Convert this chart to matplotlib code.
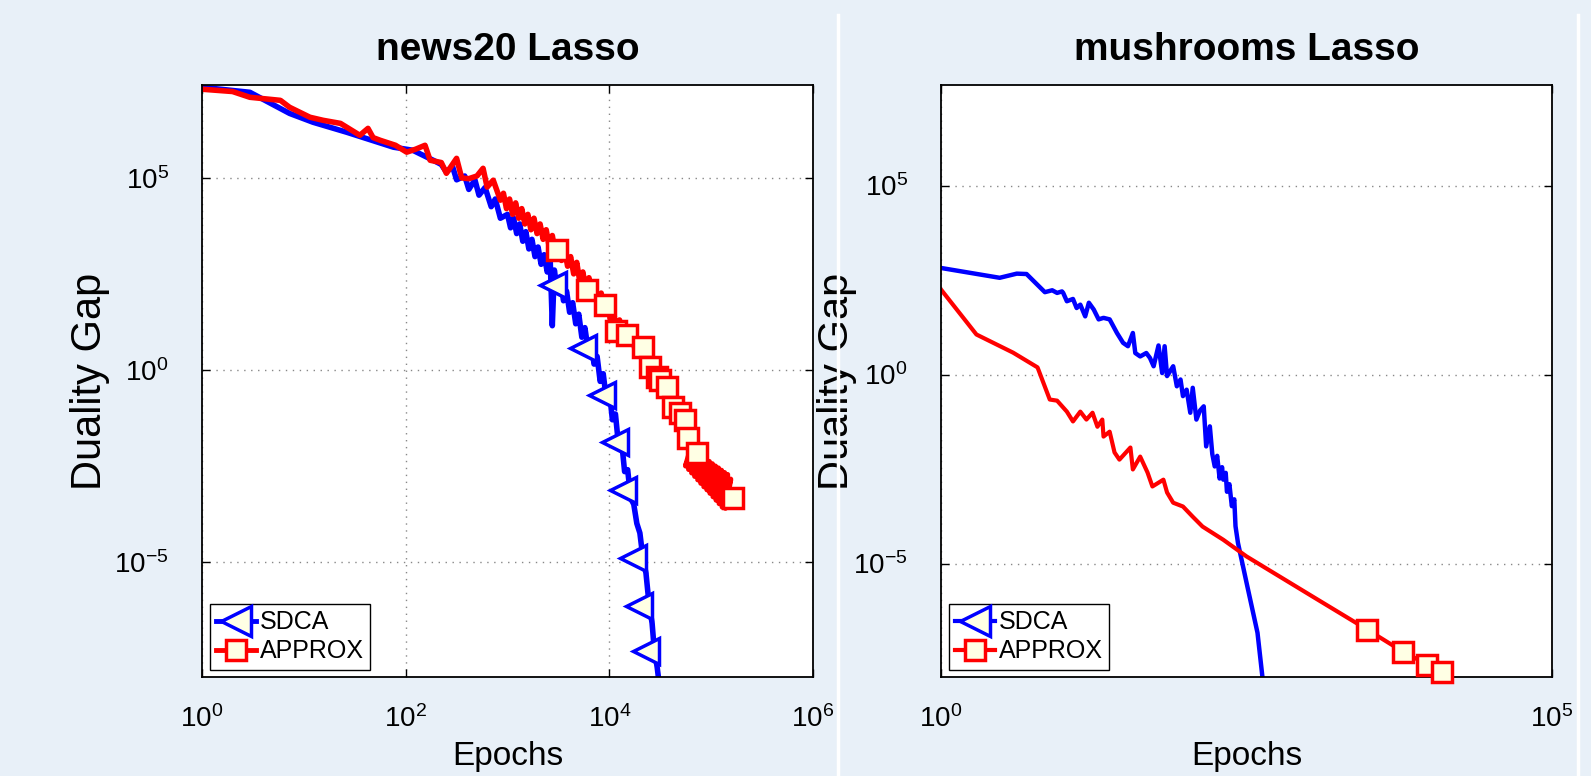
import numpy as np
import matplotlib
matplotlib.use("Agg")
import matplotlib.pyplot as plt
from matplotlib.lines import Line2D
from matplotlib.ticker import NullLocator

plt.rcParams['font.family'] = ['Liberation Sans', 'DejaVu Sans']
plt.rcParams['mathtext.fontset'] = 'custom'
plt.rcParams['mathtext.rm'] = 'Liberation Sans'
plt.rcParams['mathtext.it'] = 'Liberation Sans:italic'

BG = '#e8f0f8'
FACE = '#ffffe4'

# values are stored as log10(epochs), log10(duality gap)
# --- news20 Lasso ---
news_sdca_lx = [0.00, 0.47, 0.86, 1.09, 1.42, 1.88, 2.07, 2.27, 2.35, 2.40, 2.46, 2.50, 2.58, 2.62,
                2.68, 2.72, 2.78, 2.84, 2.88, 2.93,
                3.00, 3.03, 3.06, 3.09, 3.12, 3.15, 3.18, 3.21, 3.24, 3.27, 3.30, 3.33, 3.36, 3.39,
                3.42, 3.44, 3.46, 3.49, 3.52, 3.55, 3.58, 3.61, 3.64, 3.67, 3.70, 3.73, 3.76, 3.79,
                3.82, 3.85, 3.88, 3.91, 3.94, 3.97, 4.00, 4.03, 4.06, 4.09, 4.12, 4.15, 4.18, 4.21,
                4.24, 4.27, 4.30, 4.33, 4.36, 4.39, 4.42, 4.44, 4.47, 4.50]
news_sdca_ly = [7.36, 7.23, 6.68, 6.45, 6.19, 5.80, 5.72, 5.46, 5.35, 5.15, 5.30, 4.95, 5.05, 4.70,
                4.95, 4.55, 4.75, 4.25, 4.45, 3.95,
                4.05, 3.70, 3.95, 3.55, 3.80, 3.35, 3.60, 3.15, 3.40, 2.95, 3.20, 2.75, 3.00, 2.55,
                2.80, 1.15, 2.60, 2.05, 2.35, 1.80, 2.05, 1.50, 1.75, 1.20, 1.45, 0.85, 1.10, 0.55,
                0.75, 0.15, 0.35, -0.30, -0.10, -0.75, -0.55, -1.30, -1.15, -1.95, -1.85, -2.65,
                -2.60, -3.35, -3.50, -4.00, -4.25, -4.90, -5.30, -6.10, -6.60, -7.25, -7.75, -8.40]
news_sdca_mx = [3.45, 3.74, 3.93, 4.06, 4.13, 4.23, 4.29, 4.36]
news_sdca_my = [2.21, 0.57, -0.65, -1.87, -3.12, -4.89, -6.14, -7.31]

news_apx_lx = [0.00, 0.30, 0.47, 0.77, 0.86, 1.06, 1.19, 1.36, 1.55, 1.63, 1.68, 1.75, 1.90, 2.01,
               2.10, 2.19, 2.24, 2.35, 2.40, 2.50, 2.55, 2.62, 2.70, 2.76, 2.80, 2.86, 2.93,
               2.96, 2.99, 3.02, 3.05, 3.08, 3.11, 3.14, 3.17, 3.20, 3.23, 3.26, 3.29, 3.32, 3.35,
               3.38, 3.41, 3.44, 3.47, 3.50, 3.53, 3.56, 3.59, 3.62, 3.65, 3.68, 3.71, 3.74, 3.77,
               3.80, 3.83, 3.86, 3.89, 3.92, 3.95, 3.98, 4.01, 4.04, 4.07, 4.10, 4.13, 4.16, 4.19,
               4.22, 4.25, 4.28, 4.31, 4.34, 4.37, 4.40, 4.43, 4.46, 4.49, 4.52, 4.55, 4.58, 4.61,
               4.63, 4.66, 4.69, 4.74, 4.77,
               4.80, 4.75, 4.83, 4.78, 4.86, 4.81, 4.89, 4.84, 4.92, 4.87, 4.95, 4.90, 4.98, 4.93,
               5.01, 4.96, 5.04, 4.99, 5.07, 5.02, 5.10, 5.05, 5.13, 5.08, 5.16, 5.11, 5.19, 5.14,
               5.21]
news_apx_ly = [7.31, 7.25, 7.10, 7.02, 6.84, 6.58, 6.50, 6.42, 6.11, 6.29, 6.05, 5.98, 5.85, 5.67,
               5.75, 5.85, 5.46, 5.40, 5.12, 5.51, 5.00, 4.98, 5.05, 5.25, 4.76, 4.94, 4.42,
               4.60, 4.20, 4.45, 4.05, 4.35, 3.95, 4.20, 3.80, 4.05, 3.65, 3.95, 3.55, 3.80, 3.40,
               3.65, 3.20, 3.50, 3.05, 3.30, 2.85, 3.15, 2.70, 2.95, 2.50, 2.80, 2.30, 2.55, 2.10,
               2.40, 1.95, 2.20, 1.75, 2.00, 1.55, 1.80, 1.30, 1.55, 1.00, 1.30, 0.80, 1.05, 0.70,
               0.95, 0.55, 0.80, 0.35, 0.60, 0.05, 0.25, -0.20, 0.00, -0.35, -0.15, -0.50, -0.40,
               -0.80, -0.95, -1.00, -1.12, -1.30, -1.77,
               -2.05, -2.50, -2.11, -2.59, -2.17, -2.68, -2.22, -2.77, -2.28, -2.86, -2.34, -2.95,
               -2.39, -3.04, -2.45, -3.12, -2.51, -3.21, -2.56, -3.30, -2.62, -3.39, -2.68, -3.48,
               -2.73, -3.57, -2.85, -3.60, -3.33]
news_apx_mx = [3.49, 3.78, 3.96, 4.07, 4.17, 4.33, 4.40, 4.47, 4.50, 4.57, 4.63, 4.69, 4.74, 4.77,
               4.86, 5.21]
news_apx_my = [3.12, 2.08, 1.69, 1.00, 0.91, 0.60, 0.08, -0.18, -0.26, -0.44, -0.96, -1.12, -1.30,
               -1.77, -2.16, -3.33]

# --- mushrooms Lasso ---
mush_sdca_lx = [0.00, 0.48, 0.62, 0.70, 0.85, 0.91, 0.95, 0.99, 1.00, 1.03, 1.08, 1.11, 1.14, 1.18,
                1.21, 1.25, 1.29, 1.33, 1.38, 1.44, 1.49, 1.53, 1.57, 1.59, 1.63, 1.68, 1.71, 1.74,
                1.78, 1.81, 1.83, 1.85, 1.90, 1.93, 1.96, 1.98, 2.01, 2.04, 2.06, 2.09, 2.12, 2.15,
                2.17, 2.20, 2.22, 2.24, 2.26, 2.28, 2.30, 2.31, 2.33, 2.34, 2.36, 2.38, 2.40, 2.41,
                2.43, 2.50, 2.59, 2.63, 2.66]
mush_sdca_ly = [2.82, 2.56, 2.67, 2.66, 2.18, 2.23, 2.16, 2.20, 2.16, 1.94, 2.00, 1.76, 1.85, 1.54,
                1.90, 1.72, 1.46, 1.50, 1.46, 1.10, 0.84, 0.75, 1.10, 0.57, 0.48, 0.57, 0.44, 0.22,
                0.77, 0.04, 0.75, -0.04, 0.22, -0.31, -0.13, -0.57, -0.40, -1.01, -0.35, -1.19,
                -0.95, -0.84, -1.90, -1.37, -2.10, -2.43, -2.15, -2.75, -2.45, -2.78, -2.60, -3.10,
                -2.90, -3.48, -3.30, -4.01, -4.45, -5.50, -6.83, -7.99, -8.50]

mush_apx_lx = [0.00, 0.29, 0.59, 0.79, 0.89, 0.95, 1.03, 1.08, 1.14, 1.19, 1.24, 1.28, 1.32, 1.33,
               1.38, 1.42, 1.46, 1.55, 1.57, 1.63, 1.69, 1.73, 1.82, 1.85, 1.90, 1.98, 2.06, 2.14,
               2.31, 2.50, 3.04, 3.49, 3.78, 3.98, 4.10]
mush_apx_ly = [2.25, 1.06, 0.58, 0.19, -0.66, -0.69, -0.98, -1.24, -0.98, -1.19, -1.01, -1.38, -1.19,
               -1.64, -1.51, -2.06, -2.25, -1.93, -2.51, -2.17, -2.59, -2.96, -2.78, -3.12, -3.39,
               -3.49, -3.76, -4.02, -4.37, -4.81, -5.87, -6.75, -7.33, -7.67, -7.88]
mush_apx_mx = [3.49, 3.78, 3.98, 4.10]
mush_apx_my = [-6.75, -7.33, -7.67, -7.88]

series_labels = ['SDCA', 'APPROX']

fig = plt.figure(figsize=(15.91, 7.76), dpi=100, facecolor=BG)

W, H = 1591, 776
ax1 = fig.add_axes([202 / W, 1 - 677 / H, 611 / W, 592 / H])
ax2 = fig.add_axes([941 / W, 1 - 677 / H, 611 / W, 592 / H])

# thin white separators around the right panel
for xp in (838, 1578):
    fig.add_artist(Line2D([xp / W, xp / W], [0, 1 - 15 / H], transform=fig.transFigure,
                          color='white', lw=2.5))


def p10(v):
    return np.power(10.0, np.asarray(v))


def style(ax, title, xlim, xticks, ylim, ylab_x, lw):
    ax.set_xscale('log')
    ax.set_yscale('log')
    ax.set_xlim(*xlim)
    ax.set_ylim(*ylim)
    ax.set_xticks(xticks)
    ax.set_yticks([1e-5, 1e0, 1e5])
    ax.xaxis.set_minor_locator(NullLocator())
    ax.yaxis.set_minor_locator(NullLocator())
    ax.grid(True, which='major', linestyle=(0, (1, 4)), color='#888888', linewidth=1.0)
    ax.tick_params(direction='in', length=6, width=1, top=True, right=True, labelsize=20)
    ax.tick_params(axis='x', pad=20)
    ax.tick_params(axis='y', pad=24)
    for s in ax.spines.values():
        s.set_linewidth(1.3)
        s.set_color('black')
    ax.set_title(title, fontsize=28, fontweight='bold', pad=18)
    ax.set_ylabel('Duality Gap', fontsize=30)
    ax.yaxis.set_label_coords(ylab_x, 0.5)
    ax.set_xlabel('Epochs', fontsize=24)
    ax.xaxis.set_label_coords(0.5, -0.108)
    handles = [
        Line2D([], [], color='blue', lw=lw, marker='<', ms=22, mfc=FACE, mec='blue', mew=2.5),
        Line2D([], [], color='red', lw=lw, marker='s', ms=15, mfc=FACE, mec='red', mew=2.5),
    ]
    leg = ax.legend(handles, series_labels, loc='lower left', fontsize=18, fancybox=False,
                    edgecolor='black', framealpha=1, borderpad=0.25, handlelength=1.6,
                    handletextpad=0.15, labelspacing=0.2, borderaxespad=0.3)
    leg.get_frame().set_linewidth(1.0)


# left panel
ax1.plot(p10(news_sdca_lx), p10(news_sdca_ly), color='blue', lw=4)
ax1.plot(p10(news_apx_lx), p10(news_apx_ly), color='red', lw=4)
ax1.plot(p10(news_sdca_mx), p10(news_sdca_my), ls='none', marker='<', ms=19, mfc=FACE,
         mec='blue', mew=2.5, clip_on=False)
ax1.plot(p10(news_apx_mx), p10(news_apx_my), ls='none', marker='s', ms=15, mfc=FACE,
         mec='red', mew=2.5, clip_on=False)
style(ax1, 'news20 Lasso', (1, 1e6), [1e0, 1e2, 1e4, 1e6], (1e-8, 10 ** 7.42), -0.15, 3.5)

# right panel
ax2.plot(p10(mush_sdca_lx), p10(mush_sdca_ly), color='blue', lw=3.2)
ax2.plot(p10(mush_apx_lx), p10(mush_apx_ly), color='red', lw=3)
ax2.plot(p10(mush_apx_mx), p10(mush_apx_my), ls='none', marker='s', ms=15, mfc=FACE,
         mec='red', mew=2.5, clip_on=False, zorder=5)
style(ax2, 'mushrooms Lasso', (1, 1e5), [1e0, 1e5], (1e-8, 10 ** 7.66), -0.138, 3)

fig.savefig('out.png', dpi=100, facecolor=BG)
